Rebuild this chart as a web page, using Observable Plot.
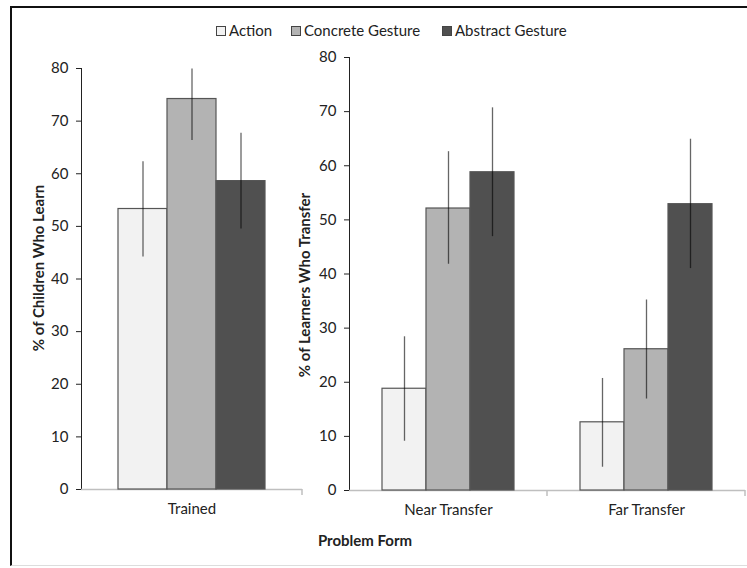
<!DOCTYPE html>
<html>
<head>
<meta charset="utf-8">
<script src="https://cdn.jsdelivr.net/npm/d3@7"></script>
<script src="https://cdn.jsdelivr.net/npm/@observablehq/plot@0.6"></script>
<style>
  html, body { margin: 0; padding: 0; background: #fff; }
  #wrap { position: relative; width: 747px; height: 568px; overflow: hidden; font-family: Lato, "Open Sans", sans-serif; color: #222; }
  #frame { position: absolute; left: 10px; top: 6px; width: 800px; height: 560px; border-top: 2.5px solid #111; border-left: 2.5px solid #111; border-bottom: 1px solid #ddd; box-sizing: border-box; }
  .plot { position: absolute; top: 0; }
  .legend-item { position: absolute; top: 21px; font-size: 15px; line-height: 18px; white-space: nowrap; }
  .legend-item .sw { display: inline-block; width: 8px; height: 8px; border: 1px solid #444; margin-right: 3px; vertical-align: 0px; }
  .ytitle { position: absolute; font-weight: bold; font-size: 15px; white-space: nowrap; transform: translate(-50%, -50%) rotate(-90deg); }
  #xtitle { position: absolute; left: 365px; top: 540px; transform: translate(-50%, -50%); font-weight: bold; font-size: 15px; white-space: nowrap; }
  svg [aria-label="y-axis tick"], svg [aria-label="y-axis line"] { stroke: #bfbfbf; }
</style>
</head>
<body>
<div id="wrap">
  <div id="frame"></div>
  <div class="ytitle" style="left:38px; top:268px;">% of Children Who Learn</div>
  <div class="ytitle" style="left:304px; top:285px;">% of Learners Who Transfer</div>
  <div id="xtitle">Problem Form</div>
</div>
<script>
// ---- data ----
const series = ["Action", "Concrete Gesture", "Abstract Gesture"];
const seriesColors = ["#f2f2f2", "#b3b3b3", "#505050"];
const trainedGroups = ["Trained"];
const transferGroups = ["Near Transfer", "Far Transfer"];
const yTicks = [0, 10, 20, 30, 40, 50, 60, 70, 80];

const trainedValues = [53.3, 74.2, 58.6];
const trainedLow    = [44.2, 66.3, 49.5];
const trainedHigh   = [62.3, 79.9, 67.7];

const nearValues = [18.8, 52.1, 58.8];
const nearLow    = [9.1, 41.8, 46.9];
const nearHigh   = [28.4, 62.6, 70.7];

const farValues = [12.6, 26.1, 52.9];
const farLow    = [4.3, 16.9, 41.0];
const farHigh   = [20.7, 35.2, 64.9];

function rows(group, vals, lo, hi) {
  return series.map((s, i) => ({group, series: s, value: vals[i], lo: lo[i], hi: hi[i]}));
}
const trainedData = rows("Trained", trainedValues, trainedLow, trainedHigh);
const transferData = [
  ...rows("Near Transfer", nearValues, nearLow, nearHigh),
  ...rows("Far Transfer", farValues, farLow, farHigh)
];

const wrap = document.getElementById("wrap");

// legend
const legendLeft = [216, 291, 442];
series.forEach((s, i) => {
  const d = document.createElement("div");
  d.className = "legend-item";
  d.style.left = legendLeft[i] + "px";
  d.innerHTML = `<span class="sw" style="background:${seriesColors[i]}"></span>${s}`;
  wrap.appendChild(d);
});

function makePanel(data, groups, opts) {
  const plot = Plot.plot({
    width: opts.width,
    height: opts.height,
    marginLeft: opts.marginLeft,
    marginRight: opts.marginRight,
    marginTop: opts.marginTop,
    marginBottom: opts.marginBottom,
    style: {fontFamily: "Lato, 'Open Sans', sans-serif", fontSize: "15px", color: "#222", background: "transparent", overflow: "visible"},
    y: {domain: [0, 80], ticks: yTicks, tickSize: 5, tickPadding: 8, label: null, line: true},
    fx: {domain: groups, paddingInner: 0, paddingOuter: 0, axis: "bottom", label: null, tickSize: 0, tickPadding: 14},
    x: {domain: series, paddingInner: 0, paddingOuter: opts.seriesPad, axis: null},
    color: {domain: series, range: seriesColors},
    marks: [
      Plot.ruleY([0], {stroke: "#bfbfbf", strokeWidth: 1.5}),
      Plot.barY(data, {fx: "group", x: "series", y: "value", fill: "series", stroke: "#555", strokeWidth: 1.2}),
      Plot.ruleX(data, {fx: "group", x: "series", y1: "lo", y2: "hi", stroke: "#000", strokeOpacity: 0.6, strokeWidth: 1.3})
    ]
  });
  plot.classList.add("plot");
  plot.style.left = opts.left + "px";
  // category separator ticks at facet boundaries
  try {
    const fx = plot.scale("fx");
    const svg = d3.select(plot);
    const base = opts.height - opts.marginBottom;
    groups.forEach(g => {
      const x = fx.apply(g) + fx.bandwidth;
      svg.append("line").attr("x1", x).attr("x2", x).attr("y1", base).attr("y2", base + 6)
        .attr("stroke", "#bfbfbf").attr("stroke-width", 1.5);
    });
  } catch (e) {}
  wrap.appendChild(plot);
}

makePanel(trainedData, trainedGroups, {left: 0, width: 310, height: 520, marginLeft: 81, marginRight: 8, marginTop: 68, marginBottom: 31, seriesPad: 0.74});
makePanel(transferData, transferGroups, {left: 300, width: 447, height: 520, marginLeft: 48, marginRight: 2, marginTop: 57, marginBottom: 30, seriesPad: 0.725});
</script>
</body>
</html>
